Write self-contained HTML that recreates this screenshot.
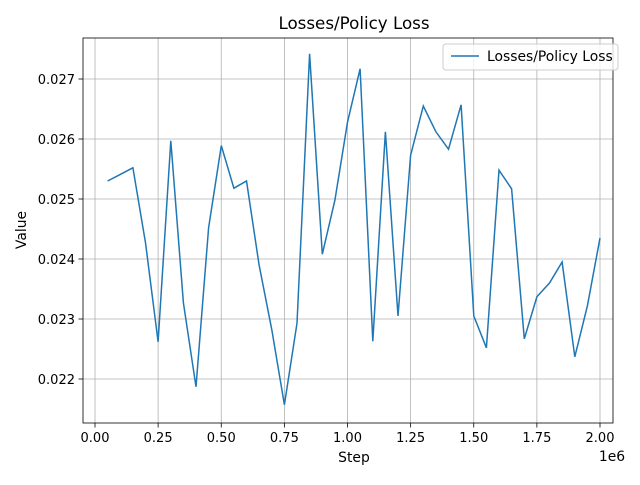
<!DOCTYPE html>
<html><head><meta charset="utf-8"><style>
body{margin:0;background:#fff;font-family:"Liberation Sans","DejaVu Sans",sans-serif}
svg text{font-family:"DejaVu Sans","Liberation Sans",sans-serif;fill:#000}
</style></head><body>
<svg id="chart" width="640" height="480">
<rect width="640" height="480" fill="#fff"/>
<text x="354" y="29" font-size="16.7" text-anchor="middle">Losses/Policy Loss</text>
<g id="grid"></g>
<g id="ticks"></g>
<path id="line" fill="none" stroke="#1f77b4" stroke-width="1.5"/>
<rect x="83" y="38" width="530" height="385" fill="none" stroke="#000" stroke-width="0.8"/>
<text x="354" y="462" font-size="13.9" text-anchor="middle">Step</text>
<text x="26" y="230" font-size="13.9" text-anchor="middle" transform="rotate(-90 26 230)">Value</text>
<text x="612" y="461" font-size="13.9" text-anchor="middle">1e6</text>
<g>
<rect x="443" y="44" width="175" height="26" rx="3" fill="#fff" fill-opacity="0.8" stroke="#ccc"/>
<line x1="451" y1="56" x2="479" y2="56" stroke="#1f77b4" stroke-width="1.5"/>
<text x="487" y="61" font-size="13.9">Losses/Policy Loss</text>
</g>
</svg>
<script>
const steps=[0.05,0.10,0.15,0.20,0.25,0.30,0.35,0.40,0.45,0.50,0.55,0.60,0.65,0.70,0.75,0.80,0.85,0.90,0.95,1.00,1.05,1.10,1.15,1.20,1.25,1.30,1.35,1.40,1.45,1.50,1.55,1.60,1.65,1.70,1.75,1.80,1.85,1.90,1.95,2.00];
const values=[0.0253,0.02541,0.02552,0.02427,0.02262,0.02597,0.02327,0.02187,0.02452,0.02589,0.02518,0.0253,0.0239,0.02282,0.02157,0.02293,0.02742,0.02408,0.02498,0.02628,0.02717,0.02263,0.02612,0.02305,0.02573,0.02655,0.02612,0.02583,0.02657,0.02305,0.02252,0.02548,0.02517,0.02267,0.02337,0.0236,0.02395,0.02237,0.02322,0.02435];
const xTicks=[0,0.25,0.5,0.75,1.0,1.25,1.5,1.75,2.0];
const xTickLabels=["0.00","0.25","0.50","0.75","1.00","1.25","1.50","1.75","2.00"];
const yTicks=[0.022,0.023,0.024,0.025,0.026,0.027];
const yTickLabels=["0.022","0.023","0.024","0.025","0.026","0.027"];
const NS="http://www.w3.org/2000/svg";
const xs=v=>95+v*252.5;
const ys=v=>379-(v-0.022)*60000;
const grid=document.getElementById('grid'),ticks=document.getElementById('ticks');
function mk(tag,attrs,parent){const e=document.createElementNS(NS,tag);for(const k in attrs)e.setAttribute(k,attrs[k]);parent.appendChild(e);return e;}
xTicks.forEach((t,i)=>{const x=xs(t);
const g=mk('line',{x1:x,x2:x,y1:38,y2:423,stroke:'#b0b0b0','stroke-width':0.8},grid);


mk('line',{x1:x,x2:x,y1:423,y2:427.5,stroke:'#000','stroke-width':0.8},ticks);
const tx=mk('text',{x:x,y:442,'font-size':13,'text-anchor':'middle'},ticks);tx.textContent=xTickLabels[i];

});
yTicks.forEach((t,i)=>{const y=ys(t);
const g=mk('line',{x1:83,x2:613,y1:y,y2:y,stroke:'#b0b0b0','stroke-width':0.8},grid);


mk('line',{x1:78.5,x2:83,y1:y,y2:y,stroke:'#000','stroke-width':0.8},ticks);
const tx=mk('text',{x:75,y:y+5,'font-size':13,'text-anchor':'end'},ticks);tx.textContent=yTickLabels[i];

});
document.getElementById('line').setAttribute('d',steps.map((s,i)=>(i?'L':'M')+xs(s).toFixed(1)+','+ys(values[i]).toFixed(1)).join(' '));
</script>
</body></html>
